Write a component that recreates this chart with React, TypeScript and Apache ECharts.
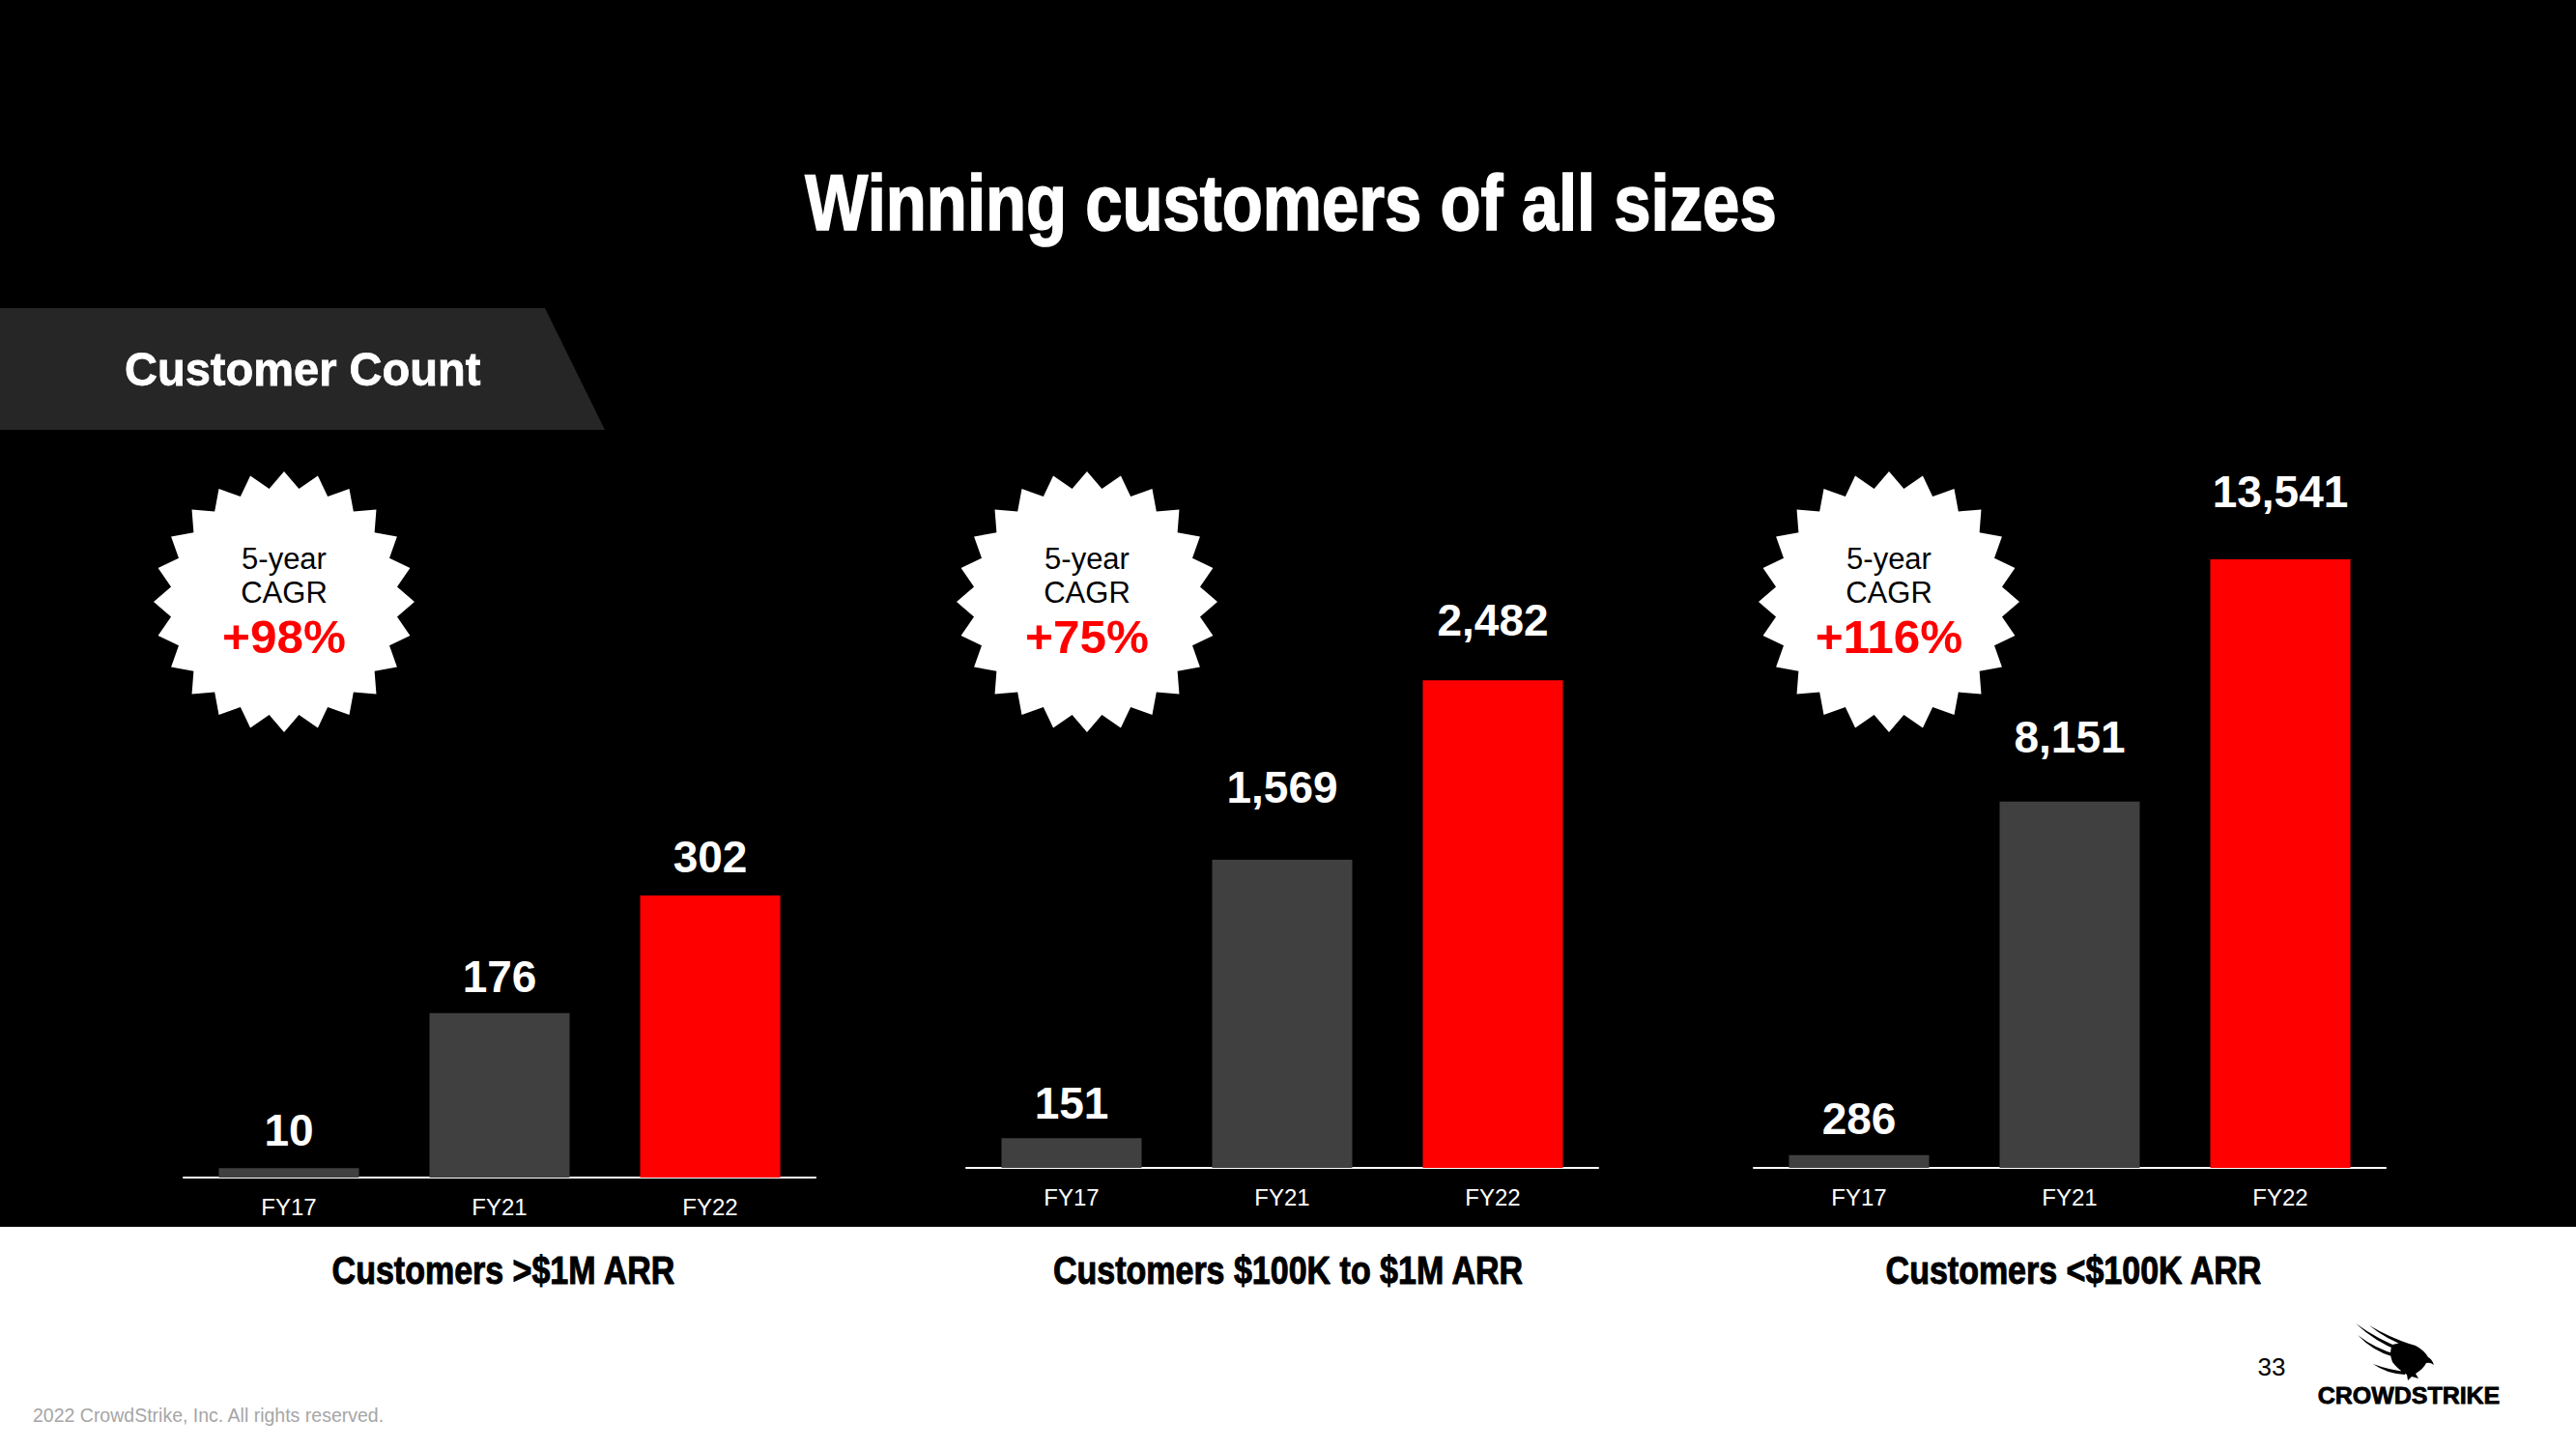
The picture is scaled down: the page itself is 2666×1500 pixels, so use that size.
import React, { useEffect, useRef } from "react";
import * as echarts from "echarts";

const categories = ["FY17", "FY21", "FY22"];
const over1M = [10, 176, 302];
const from100Kto1M = [151, 1569, 2482];
const under100K = [286, 8151, 13541];
const seriesValues = [over1M, from100Kto1M, under100K];
const axisMax = [600, 3000, 15000];
const cagrLabels = ["+98%", "+75%", "+116%"];
const panelTitles = ["Customers >$1M ARR", "Customers $100K to $1M ARR", "Customers <$100K ARR"];
// gap in px between label baseline and bar top, per bar
const labelGaps = [
  [23, 22, 24],
  [20, 59, 46],
  [22, 51, 54],
];

const FONT = '"Liberation Sans", Arial, Helvetica, sans-serif';
const GRAY = "#404040";
const RED = "#ff0000";

const grids = [
  { left: 190, top: 639, width: 654, height: 580 },
  { left: 1000, top: 599, width: 654, height: 610 },
  { left: 1815, top: 511, width: 654, height: 698 },
];
const starCenters = [294, 1125, 1955];
const subtitleCenters = [521, 1333, 2146];

const FALCON =
  "M2 2 Q24 18 50 28 L48 31 Q22 21 2 2 Z " +
  "M16 4 Q36 16 60 24 L58 27 Q34 19 16 4 Z " +
  "M4 14 Q22 28 44 34 L42 37 Q20 31 4 14 Z " +
  "M20 44 Q36 50 54 52 L53 55 Q34 54 20 44 Z " +
  "M40 24 Q52 20 64 25 Q73 30 77 37 Q81 39 83 45 Q79 42 75 43 Q72 49 64 54 L67 59 L60 57 L56 61 L55 55 Q46 50 40 42 Q36 32 40 24 Z";

let registered = false;

function starPoints(cx: number, cy: number, rOut: number, rIn: number, n: number) {
  const pts: number[][] = [];
  for (let i = 0; i < n * 2; i++) {
    const a = -Math.PI / 2 + (i * Math.PI) / n;
    const r = i % 2 === 0 ? rOut : rIn;
    pts.push([cx + r * Math.cos(a), cy + r * Math.sin(a)]);
  }
  return pts;
}

function txt(
  text: string,
  x: number,
  y: number,
  size: number,
  weight: string,
  fill: string,
  align: string,
  scaleX = 1,
  strokeWidth = 0
) {
  const style: any = {
    text,
    fill,
    font: `${weight} ${size}px ${FONT}`,
    align,
    verticalAlign: "middle",
    textAlign: align,
    textVerticalAlign: "middle",
  };
  if (strokeWidth > 0) {
    style.stroke = fill;
    style.lineWidth = strokeWidth;
  }
  return { type: "text", x, y, scaleX, silent: true, style };
}

export default function App() {
  const ref = useRef<HTMLDivElement>(null);

  useEffect(() => {
    document.body.style.margin = "0";
    if (!registered) {
      echarts.graphic.registerShape("logo", echarts.graphic.extendPath(FALCON, {}));
      registered = true;
    }
    const chart = echarts.init(ref.current!, null, { renderer: "svg" });

    const graphic: any[] = [
      { type: "rect", silent: true, shape: { x: 0, y: 1270, width: 2666, height: 230 }, style: { fill: "#ffffff" } },
      {
        type: "polygon",
        silent: true,
        shape: { points: [[0, 319], [564, 319], [626, 445], [0, 445]] },
        style: { fill: "#262626" },
      },
      txt("Customer Count", 129, 382, 49, "bold", "#ffffff", "left", 0.96, 0.8),
      txt("Winning customers of all sizes", 1336, 210, 81, "bold", "#ffffff", "center", 0.85, 1.6),
      txt("2022 CrowdStrike, Inc. All rights reserved.", 34, 1465, 19.5, "normal", "#a6a6a6", "left"),
      txt("33", 2351, 1415, 26, "normal", "#000000", "center"),
      txt("CROWDSTRIKE", 2493, 1445, 24, "bold", "#000000", "center", 1.04, 0.8),
      { type: "logo", x: 2436, y: 1368, scaleX: 1, scaleY: 1, silent: true, style: { fill: "#000000" } },
    ];

    starCenters.forEach((cx, i) => {
      graphic.push({
        type: "polygon",
        silent: true,
        shape: { points: starPoints(cx, 623, 135, 118, 24) },
        style: { fill: "#ffffff" },
      });
      graphic.push(txt("5-year", cx, 578, 31, "normal", "#000000", "center"));
      graphic.push(txt("CAGR", cx, 613, 31, "normal", "#000000", "center"));
      graphic.push(txt(cagrLabels[i], cx, 659, 48, "bold", RED, "center", 1.03));
      graphic.push(txt(panelTitles[i], subtitleCenters[i], 1315, 40, "bold", "#000000", "center", 0.85, 1));
    });

    const option: any = {
      animation: false,
      backgroundColor: "#000000",
      grid: grids.map((g) => ({ ...g, containLabel: false, outerBoundsMode: "none" })),
      xAxis: grids.map((_, i) => ({
        type: "category",
        gridIndex: i,
        data: categories,
        axisLine: { show: true, lineStyle: { color: "#ffffff", width: 2 } },
        axisTick: { show: false },
        axisLabel: { color: "#ffffff", fontSize: 24, fontFamily: FONT, margin: 18 },
        splitLine: { show: false },
      })),
      yAxis: grids.map((_, i) => ({
        type: "value",
        gridIndex: i,
        min: 0,
        max: axisMax[i],
        show: false,
        splitLine: { show: false },
      })),
      series: seriesValues.map((vals, i) => ({
        type: "bar",
        xAxisIndex: i,
        yAxisIndex: i,
        barWidth: 145,
        data: vals.map((v, j) => ({
          value: v,
          itemStyle: { color: j === vals.length - 1 ? RED : GRAY },
          label: { distance: labelGaps[i][j] - 7 },
        })),
        label: {
          show: true,
          position: "top",
          color: "#ffffff",
          fontSize: 46,
          fontWeight: "bold",
          fontFamily: FONT,
          formatter: (p: any) => Number(p.value).toLocaleString("en-US"),
        },
      })),
      graphic,
    };

    chart.setOption(option);
    return () => chart.dispose();
  }, []);

  return <div ref={ref} style={{ width: 2666, height: 1500 }} />;
}
